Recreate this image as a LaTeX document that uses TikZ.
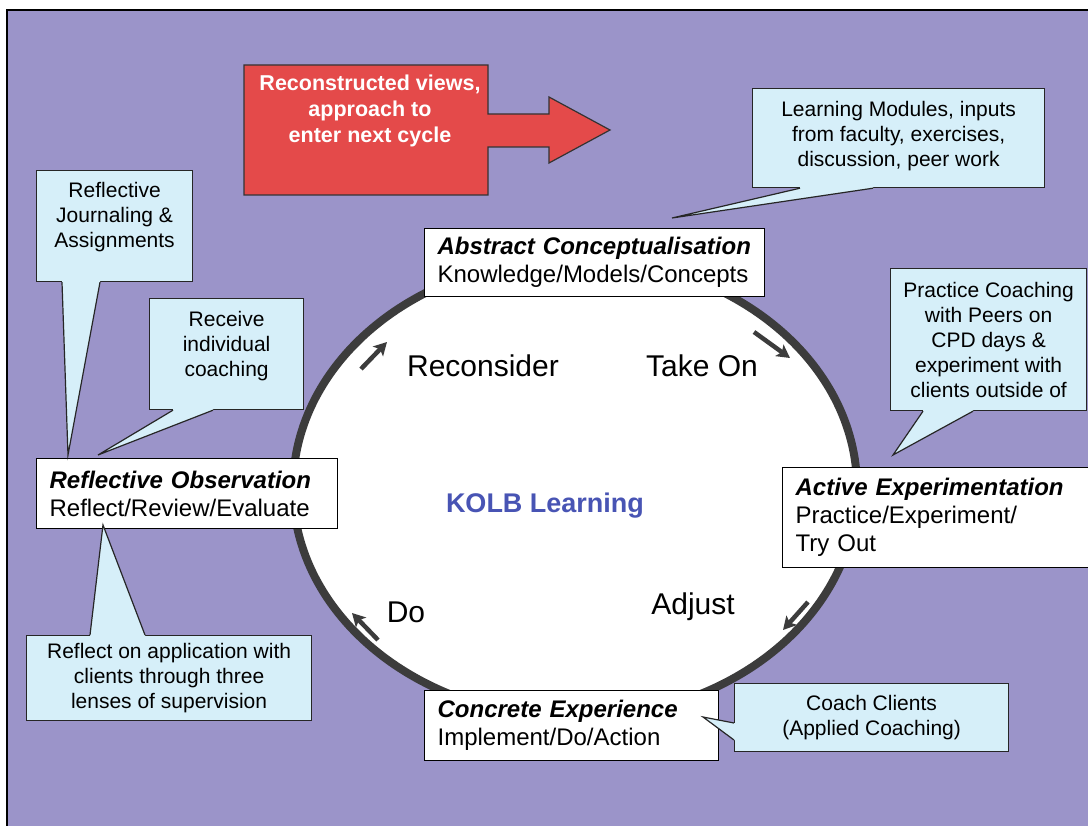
\documentclass[tikz,border=0pt]{standalone}
\usepackage{fontspec}
\setmainfont{Liberation Sans}
\usetikzlibrary{arrows.meta,calc}

\definecolor{bgpurple}{RGB}{155,148,201}
\definecolor{callfill}{RGB}{214,239,249}
\definecolor{cyclered}{RGB}{228,74,74}
\definecolor{rimgray}{RGB}{60,60,60}
\definecolor{kolbblue}{RGB}{72,84,180}

% extra depth under the last line pushes a callout text upwards
\newcommand\lift[1]{\rule[-#1]{0pt}{0pt}}
% pointer of a callout: base a, base b, tip, shift into the box
\newcommand\callptr[4]{%
  \fill[callfill] ($#1+#4$) -- #1 -- #3 -- #2 -- ($#2+#4$) -- cycle;
  \draw[callline] #1 -- #3 -- #2;}

\begin{document}
\begin{tikzpicture}[x=1pt,y=-1pt]
    \tikzstyle{stage}=[draw=black,fill=white,line width=1.2pt,anchor=north west,align=left,inner xsep=13pt,inner ysep=0pt,font=\fontsize{24}{28}\selectfont]
    \tikzstyle{note}=[draw=black!85,fill=callfill,line width=1.2pt,anchor=north west,align=center,inner sep=0pt,font=\fontsize{21}{25}\selectfont]
    \tikzstyle{callline}=[draw=black!85,line width=1.2pt,line join=miter]
    \tikzstyle{cyclelabel}=[font=\fontsize{30}{34}\selectfont]
    \tikzstyle{cyclearrow}=[rimgray,line width=4.5pt,-{Stealth[length=13pt,width=14pt,inset=3pt]}]

    \useasboundingbox (0,0) rectangle (1088,826);
    \clip (0,0) rectangle (1088,826);
    \fill[white] (0,0) rectangle (1088,826);
    \draw[line width=2pt,fill=bgpurple] (7,10) rectangle (1100,840);

    % the learning cycle
    \draw[rimgray,line width=8pt,fill=white] (575,488) ellipse [x radius=282,y radius=230];
    \node[font=\fontsize{27}{32}\selectfont\bfseries,text=kolbblue] (kolb) at (545,506) {KOLB Learning};

    \foreach \name/\x/\y/\txt in {recon/483/366/Reconsider, takeon/702/366/Take On, do/406/612/Do, adjust/693/607/Adjust}
        \node[cyclelabel] (\name) at (\x,\y) {\txt};

    \foreach \n/\sx/\sy/\ex/\ey in {recon/361/369/387/342, takeon/754/332/790/358, adjust/808/602/783/630, do/378/640/352/613}
    {
        \coordinate (s-\n) at (\sx,\sy);
        \coordinate (e-\n) at (\ex,\ey);
        \draw[cyclearrow] (s-\n) -- (e-\n);
    }

    % the four stages
    \node[stage,text width=314pt,minimum height=68pt] (ac) at (424,228)
        {{\bfseries\itshape Abstract Conceptualisation}\\Knowledge/Models/Concepts};
    \node[stage,text width=294pt,minimum height=100pt] (ae) at (782,467)
        {{\bfseries\itshape Active Experimentation}\\Practice/Experiment/\\Try Out};
    \node[stage,text width=268pt,minimum height=70pt] (ce) at (424,690)
        {{\bfseries\itshape Concrete Experience}\\Implement/Do/Action};
    \node[stage,text width=275pt,minimum height=70pt] (ro) at (36,458)
        {{\bfseries\itshape Reflective Observation}\\Reflect/Review/Evaluate};

    % next cycle
    \fill[cyclered,draw=black!80,line width=1.2pt] (244,65) -- (488,65) -- (488,114) -- (549,114) -- (549,97)
        -- (610,130) -- (549,163) -- (549,147) -- (488,147) -- (488,195) -- (244,195) -- cycle;
    \node[font=\fontsize{21.5}{26}\selectfont\bfseries,text=white,align=center] (views) at (370,111)
        {Reconstructed views,\\approach to\\enter next cycle};

    % callouts
    \node[note,minimum width=292pt,minimum height=99pt] (learn) at (752,88)
        {Learning Modules, inputs\\from faculty, exercises,\\discussion, peer work\lift{9pt}};
    \node[note,minimum width=156pt,minimum height=111pt] (journ) at (36,170)
        {Reflective\\Journaling \&\\Assignments\lift{23pt}};
    \node[note,minimum width=154pt,minimum height=111pt] (recv) at (149,298)
        {Receive\\individual\\coaching\lift{21pt}};
    \node[note,minimum width=196pt,minimum height=142pt] (pract) at (890,268)
        {Practice Coaching\\with Peers on\\CPD days \&\\experiment with\\clients outside of};
    \node[note,minimum width=285pt,minimum height=85pt] (lens) at (26,635)
        {Reflect on application with\\clients through three\\lenses of supervision};
    \node[note,minimum width=274pt,minimum height=68pt] (coach) at (734,683)
        {Coach Clients\\(Applied Coaching)};

    \foreach \n/\x/\y in {learn/672/218, journ/68/455, recv/98/455, pract/893/455, lens/103/525, coach/703/717}
        \coordinate (tip-\n) at (\x,\y);

    \coordinate (learn-a) at ($(learn.south west)+(48,0)$);
    \coordinate (learn-b) at ($(learn.south west)+(121,0)$);
    \coordinate (journ-a) at ($(journ.south west)+(26,0)$);
    \coordinate (journ-b) at ($(journ.south west)+(64,0)$);
    \coordinate (recv-a) at ($(recv.south west)+(24,0)$);
    \coordinate (recv-b) at ($(recv.south west)+(64,0)$);
    \coordinate (pract-a) at ($(pract.south west)+(33,0)$);
    \coordinate (pract-b) at ($(pract.south west)+(83,0)$);
    \coordinate (lens-a) at ($(lens.north west)+(64,0)$);
    \coordinate (lens-b) at ($(lens.north west)+(119,0)$);
    \coordinate (coach-a) at ($(coach.north west)+(0,40)$);
    \coordinate (coach-b) at ($(coach.north west)+(0,57)$);

    \callptr{(learn-a)}{(learn-b)}{(tip-learn)}{(0,-2)}
    \callptr{(journ-a)}{(journ-b)}{(tip-journ)}{(0,-2)}
    \callptr{(recv-a)}{(recv-b)}{(tip-recv)}{(0,-2)}
    \callptr{(pract-a)}{(pract-b)}{(tip-pract)}{(0,-2)}
    \callptr{(lens-a)}{(lens-b)}{(tip-lens)}{(0,2)}
    \callptr{(coach-a)}{(coach-b)}{(tip-coach)}{(2,0)}
\end{tikzpicture}
\end{document}
